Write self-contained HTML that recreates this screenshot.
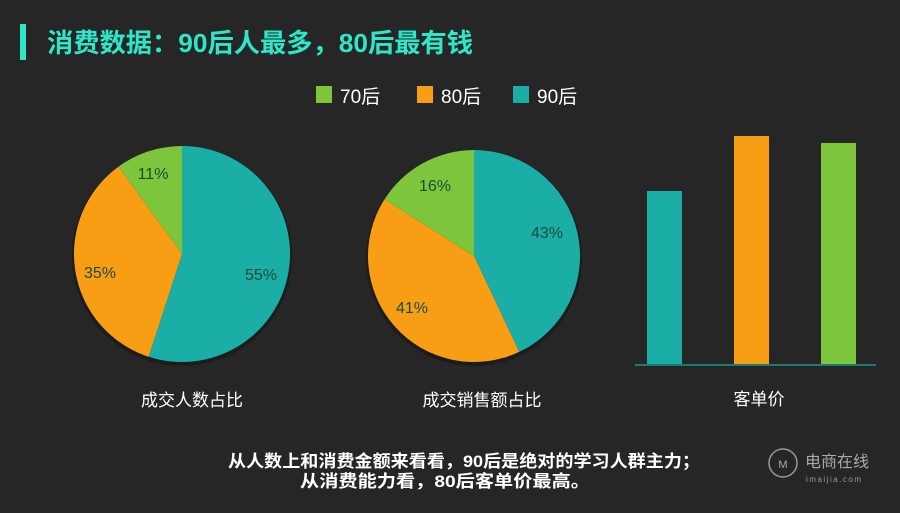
<!DOCTYPE html>
<html><head><meta charset="utf-8"><style>
html,body{margin:0;padding:0;background:#262626;width:900px;height:513px;overflow:hidden}
text{font-family:"Liberation Sans","Noto Sans CJK SC",sans-serif}
</style></head><body>
<svg width="900" height="513" viewBox="0 0 900 513" xmlns="http://www.w3.org/2000/svg">
<rect width="900" height="513" fill="#262626"/>
<rect x="20" y="24" width="6" height="36" fill="#2ee6c8"/>
<text x="47" y="52" font-size="26" font-weight="bold" fill="#2ee6c8" textLength="426" lengthAdjust="spacingAndGlyphs">消费数据：90后人最多，80后最有钱</text>
<rect x="316" y="86" width="16" height="17" fill="#7dc53a"/>
<text x="340" y="103" font-size="19" fill="#fff">70后</text>
<rect x="417" y="86" width="16" height="17" fill="#f79e15"/>
<text x="441" y="103" font-size="19" fill="#fff">80后</text>
<rect x="513" y="86" width="16" height="17" fill="#1aaea6"/>
<text x="537" y="103" font-size="19" fill="#fff">90后</text>
<circle cx="182" cy="256" r="110" fill="#151515" opacity="0.6"/>
<path d="M182,254 L182,146 A108,108 0 1,1 148.6,356.7 Z" fill="#1aaea6"/>
<path d="M182,254 L148.6,356.7 A108,108 0 0,1 118.5,166.6 Z" fill="#f79e15"/>
<path d="M182,254 L118.5,166.6 A108,108 0 0,1 182,146 Z" fill="#7dc53a"/>
<circle cx="474" cy="258" r="108" fill="#151515" opacity="0.6"/>
<path d="M474,256 L474,150 A106,106 0 0,1 519.2,351.9 Z" fill="#1aaea6"/>
<path d="M474,256 L519.2,351.9 A106,106 0 0,1 384.5,199.2 Z" fill="#f79e15"/>
<path d="M474,256 L384.5,199.2 A106,106 0 0,1 474,150 Z" fill="#7dc53a"/>
<g font-size="16" fill="#1e4a3a" text-anchor="middle">
<text x="153" y="179">11%</text><text x="100" y="278">35%</text><text x="261" y="280">55%</text>
<text x="435" y="191">16%</text><text x="547" y="238">43%</text><text x="412" y="313">41%</text>
</g>
<rect x="647" y="191" width="35" height="173" fill="#1aaea6"/>
<rect x="734" y="136" width="35" height="228" fill="#f79e15"/>
<rect x="821" y="143" width="35" height="221" fill="#7dc53a"/>
<rect x="635" y="364" width="241" height="2" fill="#1a7a72"/>
<g font-size="17" fill="#fff" text-anchor="middle">
<text x="192" y="406">成交人数占比</text>
<text x="482" y="406">成交销售额占比</text>
<text x="759" y="405">客单价</text>
</g>
<g font-size="17" font-weight="bold" fill="#fff">
<text x="228" y="467" textLength="472" lengthAdjust="spacingAndGlyphs">从人数上和消费金额来看看，90后是绝对的学习人群主力；</text>
<text x="300" y="487" textLength="290" lengthAdjust="spacingAndGlyphs">从消费能力看，80后客单价最高。</text>
</g>
<circle cx="783" cy="463" r="14" fill="none" stroke="#999" stroke-width="1.5"/>
<text x="783" y="468" font-size="11" fill="#aaa" text-anchor="middle">M</text>
<text x="805" y="467" font-size="16" fill="#aaa">电商在线</text>
<text x="806" y="482" font-size="8" fill="#999" letter-spacing="1.5">imaijia.com</text>
</svg>
</body></html>
